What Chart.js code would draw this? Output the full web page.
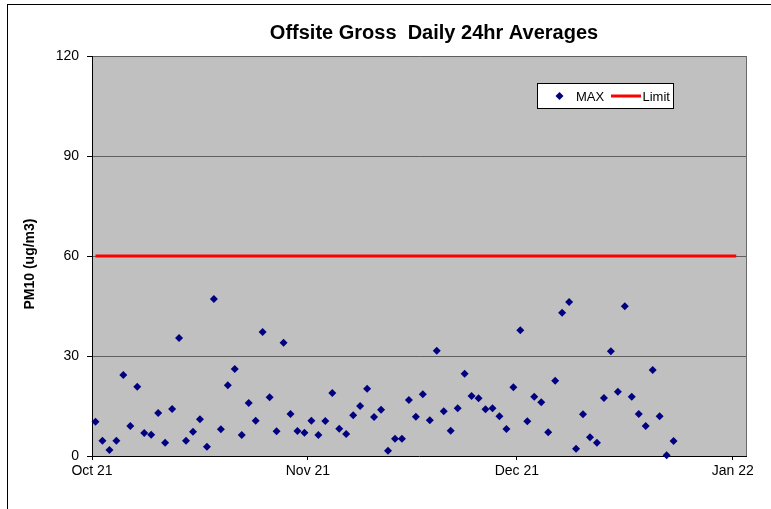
<!DOCTYPE html>
<html>
<head>
<meta charset="utf-8">
<script src="https://cdn.jsdelivr.net/npm/chart.js@4"></script>
<style>
  html, body { margin: 0; padding: 0; background: #ffffff; }
  #wrap { width: 771px; height: 509px; position: relative; }
</style>
</head>
<body>
<div id="wrap"><canvas id="c" width="771" height="509"></canvas></div>
<script>
// ---- Data ----
const chartTitle = 'Offsite Gross  Daily 24hr Averages';
const yAxisTitle = 'PM10 (ug/m3)';
const seriesMaxLabel = 'MAX';
const seriesLimitLabel = 'Limit';
const firstDate = '2021-10-01';            // first daily sample (Oct 1 2021)
const maxValues = [
  10.3, 4.6, 1.8, 4.6, 24.3, 9.0, 20.8, 6.9, 6.4, 12.9,
  4.0, 14.1, 35.4, 4.6, 7.3, 11.0, 2.8, 47.1, 8.0, 21.2,
  26.1, 6.3, 15.9, 10.6, 37.2, 17.6, 7.4, 34.0, 12.6, 7.5,
  7.0, 10.6, 6.3, 10.5, 18.9, 8.2, 6.6, 12.2, 15.0, 20.2,
  11.7, 13.9, 1.6, 5.2, 5.2, 16.8, 11.8, 18.5, 10.7, 31.6,
  13.4, 7.6, 14.3, 24.7, 18.0, 17.3, 14.0, 14.3, 11.9, 8.1,
  20.6, 37.7, 10.4, 17.8, 16.1, 7.1, 22.6, 43.0, 46.2, 2.2,
  12.5, 5.6, 4.0, 17.4, 31.4, 19.3, 44.9, 17.8, 12.6, 9.0,
  25.8, 11.9, 0.2, 4.5
];
const limitDates = ['2021-10-01', '2022-01-01'];
const limitValues = [60, 60];
const xTickDates = ['2021-10-01', '2021-11-01', '2021-12-01', '2022-01-01'];
const xTickLabels = ['Oct 21', 'Nov 21', 'Dec 21', 'Jan 22'];
const xAxisEndDate = '2022-01-03';
const yMin = 0, yMax = 120, yStep = 30;

// ---- helpers ----
function dayNum(s) {
  const p = s.split('-').map(Number);
  const b = firstDate.split('-').map(Number);
  return (Date.UTC(p[0], p[1] - 1, p[2]) - Date.UTC(b[0], b[1] - 1, b[2])) / 86400000;
}
// daily samples are plotted at mid-day of their date
const maxDates = maxValues.map((_, i) => {
  const d = new Date(Date.UTC(2021, 9, 1 + i));
  return d.toISOString().slice(0, 10);
});
const maxPoints = maxValues.map((v, i) => ({ x: dayNum(maxDates[i]) + 0.5, y: v }));
const limitPoints = limitValues.map((v, i) => ({ x: dayNum(limitDates[i]) + 0.5, y: v }));

const FONT = "Arial, 'Liberation Sans', sans-serif";

const decorPlugin = {
  id: 'decor',
  beforeDraw(chart) {
    const ctx = chart.ctx, a = chart.chartArea;
    ctx.save();
    ctx.fillStyle = '#ffffff';
    ctx.fillRect(0, 0, chart.width, chart.height);
    // outer frame (top & left visible)
    ctx.strokeStyle = '#000000';
    ctx.lineWidth = 1;
    ctx.strokeRect(7.5, 4.5, chart.width + 20, chart.height + 20);
    // plot area background
    ctx.fillStyle = '#c0c0c0';
    ctx.fillRect(a.left, a.top, a.right - a.left, a.bottom - a.top);
    ctx.restore();
  },
  beforeDatasetsDraw(chart) {
    const ctx = chart.ctx, a = chart.chartArea;
    ctx.save();
    ctx.strokeStyle = '#6a6a6a';
    ctx.lineWidth = 1;
    ctx.beginPath();
    ctx.moveTo(Math.round(a.right) - 0.5, a.top);
    ctx.lineTo(Math.round(a.right) - 0.5, a.bottom);
    ctx.stroke();
    ctx.restore();
  },
  afterDraw(chart) {
    const ctx = chart.ctx;
    ctx.save();
    // chart title
    ctx.fillStyle = '#000000';
    ctx.font = 'bold 20px ' + FONT;
    ctx.textAlign = 'center';
    ctx.textBaseline = 'middle';
    ctx.fillText(chartTitle, 434, 33);
    // y-axis title
    ctx.save();
    ctx.translate(30, 264);
    ctx.rotate(-Math.PI / 2);
    ctx.font = 'bold 14px ' + FONT;
    ctx.fillText(yAxisTitle, 0, 0);
    ctx.restore();
    // legend
    const lx = 537.5, ly = 83.5, lw = 136, lh = 25;
    ctx.fillStyle = '#ffffff';
    ctx.fillRect(lx, ly, lw, lh);
    ctx.strokeStyle = '#000000';
    ctx.lineWidth = 1;
    ctx.strokeRect(lx, ly, lw, lh);
    const cy = ly + lh / 2;
    const ds = chart.data.datasets;
    // marker
    ctx.fillStyle = ds[0].backgroundColor;
    ctx.beginPath();
    ctx.moveTo(559.5, cy - 4); ctx.lineTo(563.5, cy); ctx.lineTo(559.5, cy + 4); ctx.lineTo(555.5, cy);
    ctx.closePath(); ctx.fill();
    ctx.fillStyle = '#000000';
    ctx.font = '13px ' + FONT;
    ctx.textAlign = 'left';
    ctx.fillText(ds[0].label, 576, cy + 1);
    ctx.strokeStyle = ds[1].borderColor;
    ctx.lineWidth = 3;
    ctx.beginPath(); ctx.moveTo(611, cy); ctx.lineTo(641, cy); ctx.stroke();
    ctx.fillText(ds[1].label, 642.5, cy + 1);
    ctx.restore();
  }
};

new Chart(document.getElementById('c'), {
  type: 'scatter',
  data: {
    datasets: [
      {
        label: seriesMaxLabel,
        data: maxPoints,
        pointStyle: 'rectRot',
        pointRadius: 4,
        pointHoverRadius: 4,
        backgroundColor: '#000080',
        borderColor: '#000080',
        borderWidth: 0,
        showLine: false,
        clip: false,
        order: 1
      },
      {
        label: seriesLimitLabel,
        data: limitPoints,
        showLine: true,
        borderColor: '#ff0000',
        backgroundColor: '#ff0000',
        borderWidth: 3,
        pointRadius: 0,
        pointHoverRadius: 0,
        order: 2
      }
    ]
  },
  options: {
    responsive: false,
    animation: false,
    events: [],
    layout: { padding: { top: 56, right: 24.3, left: 0, bottom: 0 } },
    plugins: {
      legend: { display: false },
      title: { display: false },
      tooltip: { enabled: false }
    },
    scales: {
      x: {
        type: 'linear',
        min: 0,
        max: dayNum(xAxisEndDate),
        afterFit(scale) { scale.height = 53; },
        afterBuildTicks(scale) {
          scale.ticks = xTickDates.map(d => ({ value: dayNum(d) }));
        },
        ticks: {
          autoSkip: false,
          maxRotation: 0,
          padding: 3,
          color: '#000000',
          font: { family: FONT, size: 14 },
          callback(value) {
            const i = xTickDates.findIndex(d => dayNum(d) === value);
            return i >= 0 ? xTickLabels[i] : '';
          }
        },
        grid: { drawOnChartArea: false, tickLength: 4, tickColor: '#000000', color: '#000000' },
        border: { display: true, color: '#000000', width: 1 }
      },
      y: {
        min: yMin,
        max: yMax,
        afterFit(scale) { scale.width = 92; },
        ticks: {
          stepSize: yStep,
          padding: 8,
          color: '#000000',
          font: { family: FONT, size: 14 }
        },
        grid: {
          tickLength: 5,
          tickColor: '#000000',
          lineWidth: 1,
          color: (c) => (c.tick && c.tick.value === 0) ? 'rgba(0,0,0,0)' : '#5f5f5f'
        },
        border: { display: true, color: '#000000', width: 1 }
      }
    }
  },
  plugins: [decorPlugin]
});
</script>
</body>
</html>
